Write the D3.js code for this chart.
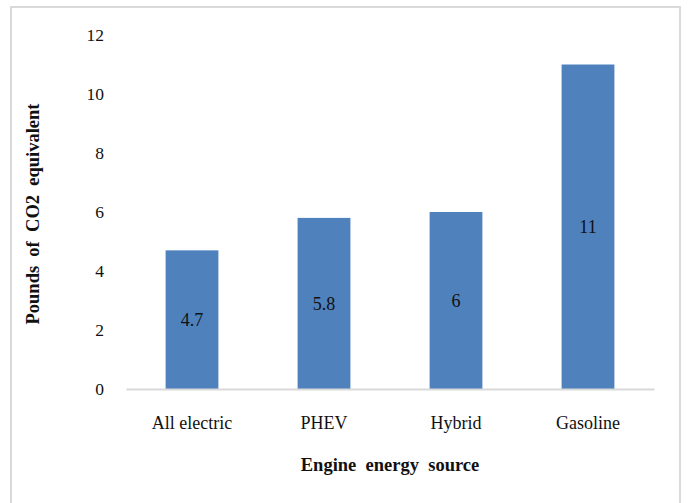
<!DOCTYPE html>
<html>
<head>
<meta charset="utf-8">
<script src="https://cdn.jsdelivr.net/npm/d3@7"></script>
<style>
  html, body { margin: 0; padding: 0; background: #fff; }
  svg { display: block; }
</style>
</head>
<body>
<svg id="chart" width="689" height="503"></svg>
<script>
// Emissions per engine energy source
const categories = ["All electric", "PHEV", "Hybrid", "Gasoline"];
const values = [4.7, 5.8, 6, 11];
const yTicks = [0, 2, 4, 6, 8, 10, 12];
const yTitle = "Pounds  of  CO2  equivalent";
const xTitle = "Engine  energy  source";

const svg = d3.select("#chart");
const font = "'Liberation Serif', 'Times New Roman', serif";

// Outer frame
svg.append("rect")
  .attr("x", 11).attr("y", 7)
  .attr("width", 669).attr("height", 505)
  .attr("fill", "#fff")
  .attr("stroke", "#d9d9d9")
  .attr("stroke-width", 2);

const plot = { left: 126, right: 654, top: 35, bottom: 389 };

const x = d3.scaleBand()
  .domain(categories)
  .range([plot.left, plot.right])
  .paddingInner(0.6)
  .paddingOuter(0.3);

const y = d3.scaleLinear()
  .domain([0, 12])
  .range([plot.bottom, plot.top]);

// Bars
svg.append("g").selectAll("rect")
  .data(values)
  .join("rect")
  .attr("x", (d, i) => x(categories[i]))
  .attr("y", d => y(d))
  .attr("width", x.bandwidth())
  .attr("height", d => y(0) - y(d))
  .attr("fill", "#4f81bd");

// Value labels centred in each bar
svg.append("g").selectAll("text")
  .data(values)
  .join("text")
  .attr("x", (d, i) => x(categories[i]) + x.bandwidth() / 2)
  .attr("y", d => (y(d) + y(0)) / 2)
  .attr("dy", "0.35em")
  .attr("text-anchor", "middle")
  .attr("font-family", font)
  .attr("font-size", 18)
  .attr("fill", "#111")
  .text(d => d);

// X axis line and category labels
const xAxis = svg.append("g")
  .attr("transform", `translate(0,${plot.bottom})`)
  .call(d3.axisBottom(x).tickSize(0).tickPadding(27));
xAxis.select(".domain").attr("stroke", "#d9d9d9").attr("stroke-width", 2);
xAxis.selectAll("text")
  .attr("font-family", font)
  .attr("font-size", 18)
  .attr("fill", "#111");

// Y axis labels (no axis line)
const yAxis = svg.append("g")
  .attr("transform", `translate(${plot.left},0)`)
  .call(d3.axisLeft(y).tickValues(yTicks).tickSize(0).tickPadding(22));
yAxis.select(".domain").remove();
yAxis.selectAll("text")
  .attr("font-family", font)
  .attr("font-size", 17.5)
  .attr("fill", "#111");

// Axis titles
svg.append("text")
  .attr("transform", `translate(39,${(plot.top + plot.bottom) / 2 + 2}) rotate(-90)`)
  .attr("text-anchor", "middle")
  .attr("font-family", font)
  .attr("font-size", 18.5)
  .attr("font-weight", "bold")
  .attr("fill", "#111")
  .style("white-space", "pre")
  .text(yTitle);

svg.append("text")
  .attr("x", (plot.left + plot.right) / 2)
  .attr("y", 471)
  .attr("text-anchor", "middle")
  .attr("font-family", font)
  .attr("font-size", 18.5)
  .attr("font-weight", "bold")
  .attr("fill", "#111")
  .style("white-space", "pre")
  .text(xTitle);
</script>
</body>
</html>
